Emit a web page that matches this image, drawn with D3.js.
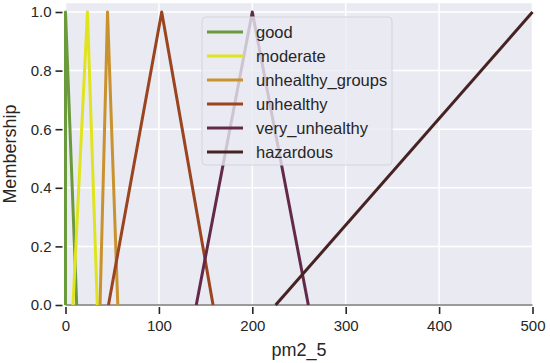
<!DOCTYPE html>
<html>
<head>
<meta charset="utf-8">
<script src="https://cdn.jsdelivr.net/npm/d3@7"></script>
<style>
  body { margin: 0; background: #fff; }
  svg { display: block; font-family: "Liberation Sans", Arial, sans-serif; }
</style>
</head>
<body>
<svg width="550" height="363"></svg>
<script>
var svg = d3.select("svg");

// membership functions (triangles: foot, peak, foot)
const names = ["good", "moderate", "unhealthy_groups", "unhealthy", "very_unhealthy", "hazardous"];
const params = [
  [0, 0, 12],
  [8, 23.5, 34],
  [37, 45, 56],
  [46, 103, 158],
  [140, 200, 260],
  [225, 500, 500]
];
const colors = ["#6b9a3c", "#e0e41e", "#c8922e", "#9a4420", "#622a48", "#472222"];
const xTicks = [0, 100, 200, 300, 400, 500];
const yTicks = [0.0, 0.2, 0.4, 0.6, 0.8, 1.0];

const width = +svg.attr("width");
const yTop = 1.03;

var x = d3.scaleLinear().domain([0, 500]).range([65.5, width - 17.5]);
var y = d3.scaleLinear().domain([0, 1]).range([305, 12]);

// background
svg.append("rect")
  .attr("x", x(0)).attr("y", y(yTop))
  .attr("width", x(500) - x(0)).attr("height", y(0) - y(yTop))
  .attr("fill", "#eaeaf2");

// grid
svg.append("g").selectAll("line").data(xTicks).join("line")
  .attr("x1", d => x(d)).attr("x2", d => x(d))
  .attr("y1", y(0)).attr("y2", y(yTop))
  .attr("stroke", "#fff").attr("stroke-width", 1.5);
svg.append("g").selectAll("line").data(yTicks).join("line")
  .attr("x1", x(0)).attr("x2", x(500))
  .attr("y1", d => y(d)).attr("y2", d => y(d))
  .attr("stroke", "#fff").attr("stroke-width", 1.5);

// axes
var xAxis = svg.append("g")
  .attr("transform", "translate(0," + (y(0) + 2) + ")")
  .call(d3.axisBottom(x).tickValues(xTicks).tickSize(7).tickPadding(6).tickFormat(d3.format("d")));
var yAxis = svg.append("g")
  .attr("transform", "translate(" + (x(0) - 3) + ",0)")
  .call(d3.axisLeft(y).tickValues(yTicks).tickSize(7).tickPadding(4).tickFormat(d3.format(".1f")));

[xAxis, yAxis].forEach(a => {
  a.select(".domain").remove();
  a.selectAll(".tick line").attr("stroke", "#262626").attr("stroke-width", 1.6);
  a.selectAll(".tick text").attr("fill", "#262626").style("font-size", "15px")
    .style("font-family", "'Liberation Sans', Arial, sans-serif");
});

// bottom spine
svg.append("line")
  .attr("x1", x(0)).attr("x2", x(500))
  .attr("y1", y(0)).attr("y2", y(0))
  .attr("stroke", "#9a9a9a").attr("stroke-width", 2);

// membership lines
var line = d3.line().x(d => x(d[0])).y(d => y(d[1]));
svg.append("g").selectAll("path").data(params).join("path")
  .attr("d", p => line([[p[0], 0], [p[1], 1], [p[2], p[2] === p[1] ? 1 : 0]]))
  .attr("fill", "none")
  .attr("stroke", (p, i) => colors[i])
  .attr("stroke-width", 3)
  .attr("stroke-linejoin", "round");

// labels
svg.append("text")
  .attr("x", (x(0) + x(500)) / 2).attr("y", 356)
  .attr("text-anchor", "middle")
  .attr("fill", "#262626").style("font-size", "18px")
  .text("pm2_5");
svg.append("text")
  .attr("transform", "translate(16," + (y(0) + y(yTop)) / 2 + ") rotate(-90)")
  .attr("text-anchor", "middle")
  .attr("fill", "#262626").style("font-size", "18px")
  .text("Membership");

// legend
var legend = svg.append("g").attr("transform", "translate(202,17)");
legend.append("rect")
  .attr("width", 190).attr("height", 148).attr("rx", 4)
  .attr("fill", "#eaeaf2").attr("fill-opacity", 0.8)
  .attr("stroke", "#d4d4dc").attr("stroke-width", 1);
var items = legend.selectAll("g.item").data(names).join("g")
  .attr("class", "item")
  .attr("transform", (d, i) => "translate(0," + (15 + i * 24) + ")");
items.append("line")
  .attr("x1", 5).attr("x2", 41)
  .attr("stroke", (d, i) => colors[i]).attr("stroke-width", 3);
items.append("text")
  .attr("x", 54).attr("dy", "0.35em")
  .attr("fill", "#262626").style("font-size", "16.5px")
  .text(d => d);
</script>
</body>
</html>
